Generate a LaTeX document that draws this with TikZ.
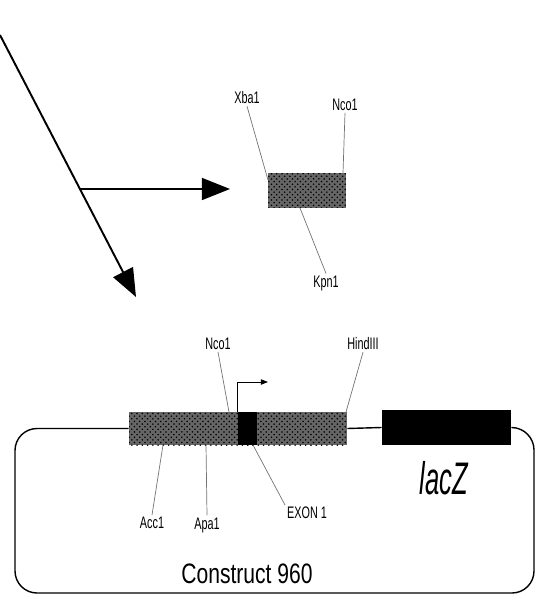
\documentclass[tikz,border=0pt]{standalone}
\usepackage{fontspec}
\usepackage{tikz}
\usetikzlibrary{arrows.meta,patterns}
\newfontfamily\sitefont{Liberation Sans}[FakeStretch=0.65]
\newfontfamily\titlefont{Liberation Sans}[FakeStretch=0.75]
\newfontfamily\genefont{Liberation Sans}[FakeStretch=0.56]

\tikzset{
  site/.style={font=\sitefont\fontsize{9.5}{9.5}\selectfont, inner sep=1pt},
  leader/.style={draw=black!55, line width=0.4pt},
  bigarrow/.style={line width=1.1pt, -{Triangle[length=16pt,width=12.5pt]}},
  dna/.style={line width=0.8pt},
  stipple/.style={fill=black!60, postaction={pattern=crosshatch dots, pattern color=black},
    inner sep=0pt},
  solidbox/.style={fill=black, inner sep=0pt},
}

\begin{document}
\begin{tikzpicture}[x=0.02cm,y=-0.02cm]
  \useasboundingbox (0,0) rectangle (545,598);

  % Arrows
  \coordinate (src) at (0,35);
  \coordinate (fork) at (80,189);
  \coordinate (down) at (136,297);
  \coordinate (right) at (230,189);
  \draw[bigarrow] (src) -- (down);
  \draw[bigarrow] (fork) -- (right);

  % Insert fragment
  \node[stipple, minimum width=1.56cm, minimum height=0.7cm] (insert) at (307,190.5) {};
  \node[site] (xba) at (247,98) {Xba1};
  \node[site] (ncoA) at (345,105) {Nco1};
  \node[site] (kpn) at (326,283) {Kpn1};
  \coordinate (xbacut) at (268,180);
  \coordinate (ncoAcut) at (343,173);
  \coordinate (kpncut) at (300,208);
  \draw[leader] (xba.south) -- (xbacut);
  \draw[leader] (ncoA.south) -- (ncoAcut);
  \draw[leader] (kpn.north) -- (kpncut);

  % Construct 960
  \node[stipple, minimum width=4.36cm, minimum height=0.66cm] (prom) at (238,428.5) {};
  \node[solidbox, minimum width=0.38cm, minimum height=0.66cm] (exon) at (247.5,428.5) {};
  \node[solidbox, minimum width=2.58cm, minimum height=0.7cm] (lacz) at (446.5,427.5) {};
  \draw[dna, rounded corners=0.44cm] (prom.west) -| (15,593) -| (534,428) -- (lacz.east);
  \draw[dna] (prom.east) -- (lacz.west);
  \coordinate (tss) at (268,382);
  \draw[line width=0.5pt, -{Triangle[length=4pt,width=3pt]}] (exon.north west) |- (tss);

  \node[site] (ncoB) at (218,344) {Nco1};
  \node[site] (hind) at (363,344) {HindIII};
  \node[site] (acc) at (152,523) {Acc1};
  \node[site] (apa) at (207,525) {Apa1};
  \node[site] (exlbl) at (307,513) {EXON 1};
  \coordinate (ncoBcut) at (229,412);
  \coordinate (hindcut) at (346,412);
  \coordinate (acccut) at (163,445);
  \coordinate (apacut) at (206,445);
  \coordinate (exoncut) at (253,445);
  \draw[leader] (ncoB.south) -- (ncoBcut);
  \draw[leader] (hind.south) -- (hindcut);
  \draw[leader] (acc.north) -- (acccut);
  \draw[leader] (apa.north) -- (apacut);
  \draw[leader] (exlbl.north west) -- (exoncut);

  \node[font=\genefont\itshape\fontsize{26}{26}\selectfont, inner sep=0pt] (gene) at (444,478) {lacZ};
  \node[font=\titlefont\fontsize{16}{16}\selectfont, inner sep=0pt] (title) at (247,574) {Construct 960};
\end{tikzpicture}
\end{document}
